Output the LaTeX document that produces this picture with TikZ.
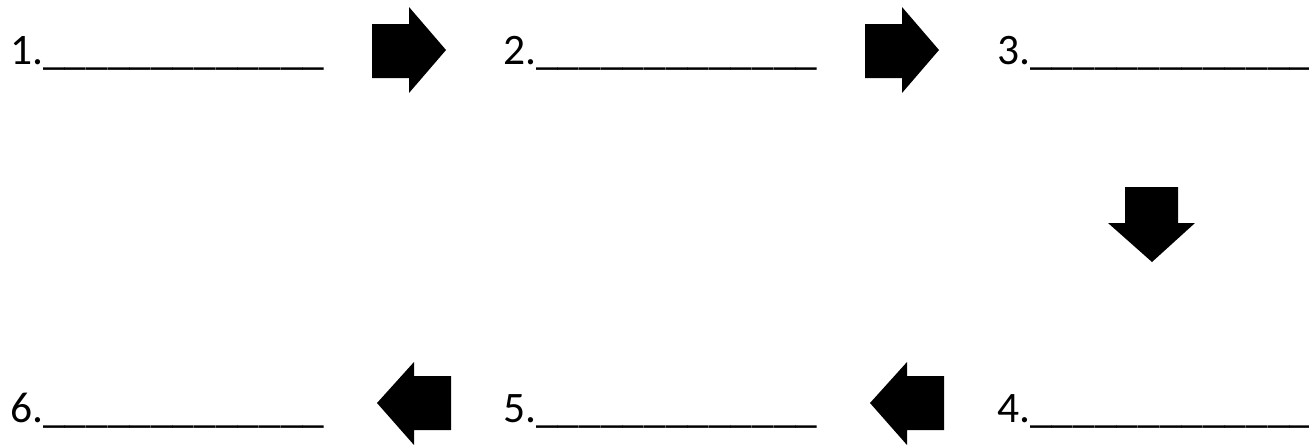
\documentclass[tikz,border=0pt]{standalone}
\usepackage{fontspec}
\setmainfont{Carlito}
\begin{document}
\begin{tikzpicture}[x=1pt,y=-1pt,
  lbl/.style={anchor=base west,inner sep=0pt,outer sep=0pt,font=\fontsize{43.5}{48}\selectfont},
  blockarrow/.style={fill=black,draw=none}]
\useasboundingbox (0,0) rectangle (1309,447);
\newcommand{\blank}{\_\_\_\_\_\_\_\_\_\_\_\_\_}
% labels
\node[lbl] (t1) at (10,64) {1.\blank};
\node[lbl] (t2) at (503,64) {2.\blank};
\node[lbl] (t3) at (997,64) {3.\blank};
\node[lbl] (t4) at (997,422) {4.\blank};
\node[lbl] (t5) at (503,422) {5.\blank};
\node[lbl] (t6) at (10,422) {6.\blank};
% right arrows
\foreach \dx in {0,493}{
  \begin{scope}[xshift=\dx pt]
  \fill[blockarrow] (372,24) -- (409,24) -- (409,7) -- (446,50) -- (409,93) -- (409,78) -- (372,78) -- cycle;
  \end{scope}
}
% down arrow
\fill[blockarrow] (1125,187) -- (1178,187) -- (1178,223) -- (1195,223) -- (1152,262) -- (1108,223) -- (1125,223) -- cycle;
% left arrows
\foreach \dx in {0,-493}{
  \begin{scope}[xshift=\dx pt]
  \fill[blockarrow] (870,403) -- (907,362) -- (907,376) -- (944,376) -- (944,430) -- (907,430) -- (907,445) -- cycle;
  \end{scope}
}
\end{tikzpicture}
\end{document}
